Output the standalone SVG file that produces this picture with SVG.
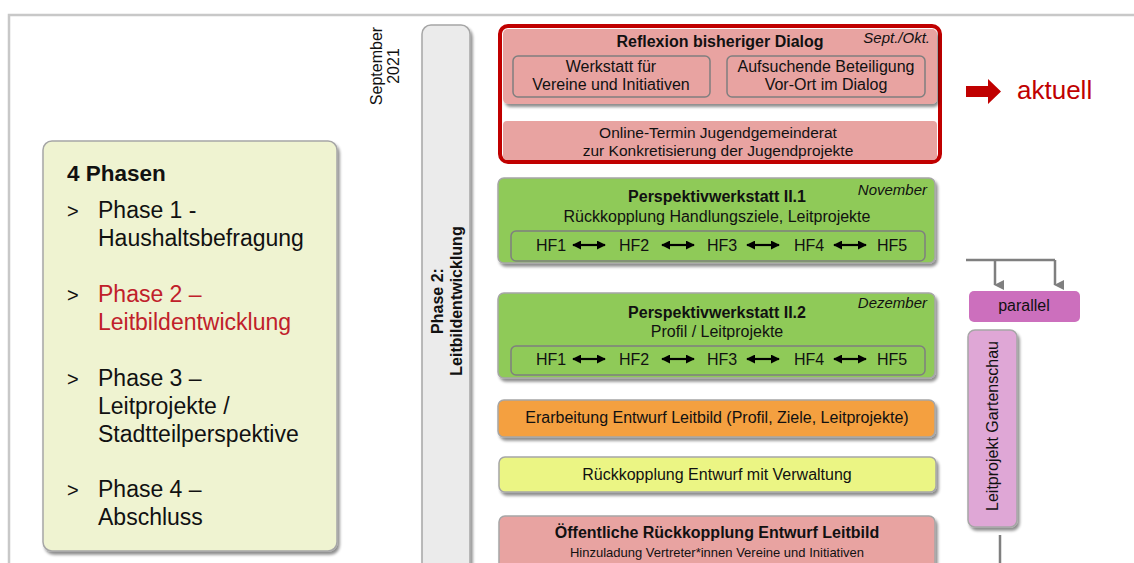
<svg xmlns="http://www.w3.org/2000/svg" width="1134" height="563" viewBox="0 0 1134 563">
<defs>
<filter id="sh" x="-10%" y="-10%" width="130%" height="140%">
<feGaussianBlur in="SourceAlpha" stdDeviation="1.5"/>
<feOffset dx="2" dy="3" result="b"/>
<feComponentTransfer><feFuncA type="linear" slope="0.45"/></feComponentTransfer>
<feMerge><feMergeNode/><feMergeNode in="SourceGraphic"/></feMerge>
</filter>
<marker id="ah" viewBox="0 0 10 10" refX="5" refY="9" markerWidth="10" markerHeight="10" markerUnits="userSpaceOnUse" orient="auto-start-reverse">
<path d="M0,0 L10,0 L5,10 Z" fill="#7f7f7f"/>
</marker>
<marker id="dh" viewBox="0 0 10 10" refX="9" refY="5" markerWidth="9" markerHeight="9" markerUnits="userSpaceOnUse" orient="auto-start-reverse">
<path d="M0,0 L10,5 L0,10 Z" fill="#000"/>
</marker>
</defs>
<style>
text{font-family:"Liberation Sans",Arial,sans-serif;fill:#111}
.b{font-weight:bold}
.i{font-style:italic}
.c{text-anchor:middle}
.box{stroke:#a6a6a6;stroke-width:1.5}
.in{fill:none;stroke:#7f7f7f;stroke-width:1.5}
.hf{font-size:16px}
.conn{stroke:#7f7f7f;stroke-width:2.5;fill:none}
.dbl{stroke:#000;stroke-width:2.2;fill:none}
</style>
<rect width="1134" height="563" fill="#fff"/>
<path d="M9,563 V15 H1134" fill="none" stroke="#c8c8c8" stroke-width="2.5"/>

<g id="phasen">
<rect x="43" y="141" width="294" height="410" rx="9" fill="#eff3d1" class="box" filter="url(#sh)"/>
<text x="67" y="181" class="b" font-size="22.5">4 Phasen</text>
<g font-size="23">
<text x="67" y="218" font-size="20">&gt;</text>
<text x="98" y="218">Phase 1 -</text>
<text x="98" y="246">Haushaltsbefragung</text>
<text x="67" y="302" font-size="20">&gt;</text>
<text x="98" y="302" style="fill:#c0202a">Phase 2 –</text>
<text x="98" y="330" style="fill:#c0202a">Leitbildentwicklung</text>
<text x="67" y="386" font-size="20">&gt;</text>
<text x="98" y="386">Phase 3 –</text>
<text x="98" y="414">Leitprojekte /</text>
<text x="98" y="442">Stadtteilperspektive</text>
<text x="67" y="497" font-size="20">&gt;</text>
<text x="98" y="497">Phase 4 –</text>
<text x="98" y="525">Abschluss</text>
</g>
</g>

<g id="datum">
<text transform="translate(382,66) rotate(-90)" class="c" font-size="16"><tspan x="0" y="0">September</tspan><tspan x="0" y="17">2021</tspan></text>
</g>

<g id="phase2bar">
<rect x="422" y="25" width="48" height="560" rx="9" fill="#ebebeb" class="box" filter="url(#sh)"/>
<text transform="translate(443,301) rotate(-90)" class="c b" font-size="16"><tspan x="0" y="0">Phase 2:</tspan><tspan x="0" y="19">Leitbildentwicklung</tspan></text>
</g>

<g id="reflexion">
<rect x="500" y="26" width="440" height="136" rx="8" fill="#fff" stroke="#c00000" stroke-width="4"/>
<rect x="503" y="29" width="434" height="75" rx="5" fill="#e8a3a1" filter="url(#sh)"/>
<text x="720" y="47" class="c b" font-size="16">Reflexion bisheriger Dialog</text>
<text x="930" y="43" class="i" text-anchor="end" font-size="15">Sept./Okt.</text>
<rect x="513" y="56" width="197" height="41" rx="5" class="in"/>
<text x="611" y="72" class="c" font-size="16">Werkstatt für</text>
<text x="611" y="90" class="c" font-size="16">Vereine und Initiativen</text>
<rect x="727" y="56" width="198" height="41" rx="5" class="in"/>
<text x="826" y="72" class="c" font-size="16">Aufsuchende Beteiligung</text>
<text x="826" y="90" class="c" font-size="16">Vor-Ort im Dialog</text>
</g>

<g id="online">
<rect x="503" y="121" width="434" height="39" rx="4" fill="#e8a3a1"/>
<text x="718" y="138" class="c" font-size="15.5">Online-Termin Jugendgemeinderat</text>
<text x="718" y="156" class="c" font-size="15.5">zur Konkretisierung der Jugendprojekte</text>
</g>

<g id="aktuell">
<path d="M966,86 H988 V79 L1001,91.5 L988,104 V97 H966 Z" fill="#c00000"/>
<text x="1017" y="99" font-size="26" style="fill:#c00000">aktuell</text>
</g>

<g id="pw1">
<rect x="498" y="178" width="437" height="85" rx="6" fill="#8fca58" class="box" filter="url(#sh)"/>
<text x="717" y="202" class="c b" font-size="16">Perspektivwerkstatt II.1</text>
<text x="927" y="195" class="i" text-anchor="end" font-size="15">November</text>
<text x="717" y="222" class="c" font-size="16">Rückkopplung Handlungsziele, Leitprojekte</text>
<rect x="511" y="231" width="414" height="30" rx="5" class="in"/>
<g class="hf">
<text x="551" y="251" class="c">HF1</text>
<text x="634" y="251" class="c">HF2</text>
<text x="722" y="251" class="c">HF3</text>
<text x="809" y="251" class="c">HF4</text>
<text x="892" y="251" class="c">HF5</text>
</g>
</g>

<g id="pw2">
<rect x="498" y="293" width="437" height="85" rx="6" fill="#8fca58" class="box" filter="url(#sh)"/>
<text x="717" y="318" class="c b" font-size="16">Perspektivwerkstatt II.2</text>
<text x="927" y="308" class="i" text-anchor="end" font-size="15">Dezember</text>
<text x="717" y="337" class="c" font-size="16">Profil / Leitprojekte</text>
<rect x="511" y="346" width="414" height="29" rx="5" class="in"/>
<g class="hf">
<text x="551" y="365" class="c">HF1</text>
<text x="634" y="365" class="c">HF2</text>
<text x="722" y="365" class="c">HF3</text>
<text x="809" y="365" class="c">HF4</text>
<text x="892" y="365" class="c">HF5</text>
</g>
</g>

<g id="erarbeitung">
<rect x="498" y="400" width="437" height="37" rx="6" fill="#f4a040" class="box" filter="url(#sh)"/>
<text x="717" y="423" class="c" font-size="16">Erarbeitung Entwurf Leitbild (Profil, Ziele, Leitprojekte)</text>
</g>

<g id="verwaltung">
<rect x="499" y="457" width="437" height="35" rx="6" fill="#ebf584" class="box" filter="url(#sh)"/>
<text x="717" y="480" class="c" font-size="16">Rückkopplung Entwurf mit Verwaltung</text>
</g>

<g id="oeffentlich">
<rect x="499" y="516" width="436" height="70" rx="6" fill="#e8a3a1" class="box" filter="url(#sh)"/>
<text x="717" y="538" class="c b" font-size="16">Öffentliche Rückkopplung Entwurf Leitbild</text>
<text x="717" y="557" class="c" font-size="13">Hinzuladung Vertreter*innen Vereine und Initiativen</text>
</g>

<g id="parallel">
<rect x="969" y="291" width="111" height="31" rx="5" fill="#cc6fbd"/>
<text x="1024" y="311" class="c" font-size="16">parallel</text>
</g>

<g id="gartenschau">
<rect x="968" y="330" width="49" height="197" rx="7" fill="#dfa7d6" class="box" filter="url(#sh)"/>
<text transform="translate(998,426) rotate(-90)" class="c" font-size="16">Leitprojekt Gartenschau</text>
</g>

<g id="connectors">
<path class="conn" d="M966,260 H1055"/>
<path class="conn" d="M995,260 V285" marker-end="url(#ah)"/>
<path class="conn" d="M1055,260 V285" marker-end="url(#ah)"/>
<path class="conn" d="M1000,535 V563"/>
<g class="dbl">
<path d="M573,245 H605" marker-start="url(#dh)" marker-end="url(#dh)"/>
<path d="M662,245 H694" marker-start="url(#dh)" marker-end="url(#dh)"/>
<path d="M747,245 H779" marker-start="url(#dh)" marker-end="url(#dh)"/>
<path d="M834,245 H866" marker-start="url(#dh)" marker-end="url(#dh)"/>
<path d="M573,359 H605" marker-start="url(#dh)" marker-end="url(#dh)"/>
<path d="M662,359 H694" marker-start="url(#dh)" marker-end="url(#dh)"/>
<path d="M747,359 H779" marker-start="url(#dh)" marker-end="url(#dh)"/>
<path d="M834,359 H866" marker-start="url(#dh)" marker-end="url(#dh)"/>
</g>
</g>
</svg>
